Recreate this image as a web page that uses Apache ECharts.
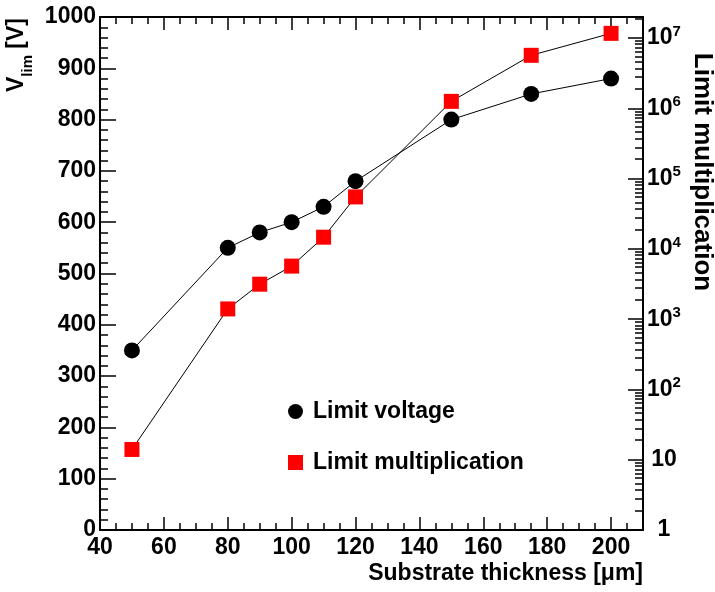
<!DOCTYPE html>
<html>
<head>
<meta charset="utf-8">
<script src="https://cdn.jsdelivr.net/npm/echarts@6/dist/echarts.min.js"></script>
<style>
html,body{margin:0;padding:0;background:#fff;}
#chart{width:715px;height:592px;}
</style>
</head>
<body>
<div id="chart"></div>
<script>
// Data
const thickness = [50, 80, 90, 100, 110, 120, 150, 175, 200];
const limitVoltage = [350, 550, 580, 600, 630, 680, 800, 850, 880];
const limitMultiplication = [14, 1400, 3150, 5700, 14700, 55000, 1260000, 5700000, 11700000];
const seriesNames = ['Limit voltage', 'Limit multiplication'];

const FONT = '"Liberation Sans", Arial, Helvetica, sans-serif';
const chart = echarts.init(document.getElementById('chart'));

const vData = thickness.map((x, i) => [x, limitVoltage[i]]);
const mData = thickness.map((x, i) => [x, limitMultiplication[i]]);

const tickLabel = {fontFamily: FONT, fontWeight: 'bold', fontSize: 23, color: '#000', formatter: function (v) { return String(v); }};

chart.setOption({
  animation: false,
  backgroundColor: '#fff',
  grid: {left: 100, right: 72, top: 17, bottom: 62, containLabel: false},
  xAxis: [{
    type: 'value', position: 'bottom', min: 40, max: 210, interval: 20,
    axisLine: {show: true, onZero: false, lineStyle: {color: '#000', width: 2}},
    axisTick: {show: true, inside: true, length: 13, lineStyle: {color: '#000', width: 1.5}},
    minorTick: {show: true, splitNumber: 4, length: 7, lineStyle: {color: '#000', width: 1.5}},
    splitLine: {show: false},
    axisLabel: Object.assign({margin: 6, showMaxLabel: false}, tickLabel)
  }, {
    type: 'value', position: 'top', min: 40, max: 210, interval: 20,
    axisLine: {show: true, onZero: false, lineStyle: {color: '#000', width: 2}},
    axisTick: {show: true, inside: true, length: 13, lineStyle: {color: '#000', width: 1.5}},
    minorTick: {show: true, splitNumber: 4, length: 7, lineStyle: {color: '#000', width: 1.5}},
    splitLine: {show: false},
    axisLabel: {show: false}
  }],
  yAxis: [{
    type: 'value', position: 'left', min: 0, max: 1000, interval: 100,
    axisLine: {show: true, onZero: false, lineStyle: {color: '#000', width: 2}},
    axisTick: {show: true, inside: true, length: 16, lineStyle: {color: '#000', width: 1.5}},
    minorTick: {show: true, splitNumber: 5, length: 8, lineStyle: {color: '#000', width: 1.5}},
    splitLine: {show: false},
    axisLabel: Object.assign({margin: 4}, tickLabel)
  }, {
    type: 'log', logBase: 10, position: 'right', min: 1, max: 2e7,
    axisLine: {show: true, onZero: false, lineStyle: {color: '#000', width: 2}},
    axisTick: {show: true, inside: true, length: 15, lineStyle: {color: '#000', width: 1.5}},
    minorTick: {show: true, splitNumber: 10, length: 8, lineStyle: {color: '#000', width: 1.5}},
    splitLine: {show: false},
    axisLabel: {
      margin: 21, align: 'center', showMaxLabel: false,
      formatter: function (v) {
        const n = Math.round(Math.log10(v));
        if (n === 0) return '{b|1}';
        if (n === 1) return '{b|10}';
        return '{b|10}{s|' + n + '}';
      },
      rich: {
        b: {fontFamily: FONT, fontWeight: 'bold', fontSize: 23, color: '#000', lineHeight: 28},
        s: {fontFamily: FONT, fontWeight: 'bold', fontSize: 15, color: '#000', verticalAlign: 'top', lineHeight: 18}
      }
    }
  }],
  legend: {
    orient: 'vertical', left: 283, top: 395, itemWidth: 15, itemHeight: 15, itemGap: 28,
    data: [{name: seriesNames[0], icon: 'circle'}, {name: seriesNames[1], icon: 'rect'}],
    textStyle: {fontFamily: FONT, fontWeight: 'bold', fontSize: 23, color: '#000', lineHeight: 23, padding: [0, 0, 0, 5]}
  },
  series: [{
    name: seriesNames[0], type: 'line', xAxisIndex: 0, yAxisIndex: 0, data: vData,
    symbol: 'circle', symbolSize: 16,
    itemStyle: {color: '#000'},
    lineStyle: {color: '#000', width: 1}, z: 3
  }, {
    name: seriesNames[1], type: 'line', xAxisIndex: 0, yAxisIndex: 1, data: mData,
    symbol: 'rect', symbolSize: 15,
    itemStyle: {color: '#ff0000'},
    lineStyle: {color: '#000', width: 1}, z: 2
  }],
  graphic: [{
    type: 'text', x: 643, y: 574,
    style: {text: 'Substrate thickness [\u03bcm]', font: 'bold 23px ' + FONT, fill: '#000', align: 'right', verticalAlign: 'middle'}
  }, {
    type: 'text', x: 20, y: 55, rotation: Math.PI / 2,
    style: {
      text: '{a|V}{s|lim}{a| [V]}', align: 'center', verticalAlign: 'middle',
      rich: {
        a: {fontFamily: FONT, fontWeight: 'bold', fontSize: 23, fill: '#000', lineHeight: 30, verticalAlign: 'top'},
        s: {fontFamily: FONT, fontWeight: 'bold', fontSize: 15, fill: '#000', lineHeight: 30, verticalAlign: 'bottom'}
      }
    }
  }, {
    type: 'text', x: 702, y: 172, rotation: -Math.PI / 2,
    style: {text: 'Limit multiplication', font: 'bold 26px ' + FONT, fill: '#000', align: 'center', verticalAlign: 'middle'}
  }]
});
</script>
</body>
</html>
